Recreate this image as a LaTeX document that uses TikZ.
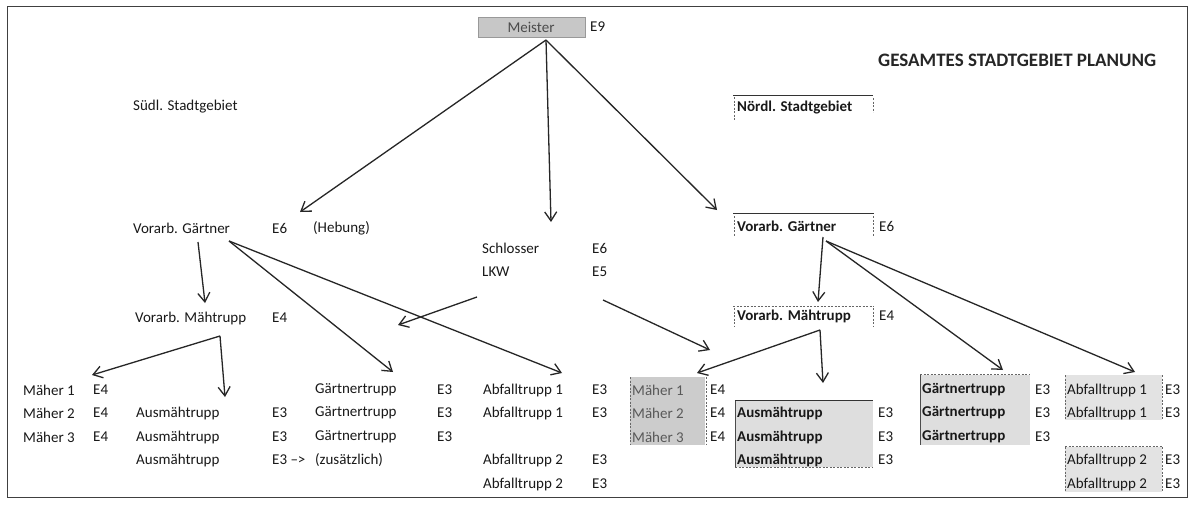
\documentclass[tikz,border=0pt]{standalone}
\usepackage{fontspec}
\setmainfont{Carlito}
\usetikzlibrary{arrows.meta}
\begin{document}
\begin{tikzpicture}[x=1pt,y=-1pt,
  lbl/.style={anchor=west,inner sep=0pt,text=black!90,font=\fontsize{15}{18}\selectfont},
  blbl/.style={lbl,font=\fontsize{15}{18}\selectfont\bfseries},
  ttl/.style={anchor=west,inner sep=0pt,text=black!85,font=\fontsize{19}{22}\selectfont\bfseries},
  arr/.style={-{Straight Barb[length=9pt,width=12pt,line width=1.3pt]},line width=1.3pt,black!85},
  topline/.style={line width=1pt,black!80},
  tick/.style={line width=0.6pt,black!60,dash pattern=on 2pt off 1.5pt}
]
\useasboundingbox (0,0) rectangle (1193,504);
\fill[white] (0,0) rectangle (1193,504);
% frame
\draw[line width=1pt,black!75] (7,6) rectangle (1187,497);

% cell shadings / borders
\draw[fill=black!22,draw=black!40,line width=0.6pt] (478,17) rectangle (585,37);
\draw[topline] (733,95) -- (873,95);
\draw[tick] (734,97) -- (734,120); \draw[tick] (873,98) -- (873,112);
\draw[topline] (733,213) -- (874,213);
\draw[tick] (734,216) -- (734,236); \draw[tick] (873,216) -- (873,236);
\draw[tick,line width=0.9pt] (733,306) -- (874,306);
\draw[tick] (734,308) -- (734,326); \draw[tick] (873,308) -- (873,326);
\fill[black!20] (630,377) rectangle (705,445);
\draw[tick] (630,377) -- (630,445); \draw[tick] (706,377) -- (706,445);
\fill[black!13] (735,400) rectangle (873,467);
\draw[topline] (735,400) -- (873,400);
\draw[line width=0.8pt,black!70] (735,401) -- (735,467);
\draw[tick] (735,467) -- (873,467);
\fill[black!13] (920,375) rectangle (1030,445);
\draw[tick] (920,374) -- (1030,374);
\draw[line width=0.8pt,black!70] (920,375) -- (920,445);
\fill[black!11] (1065,375) rectangle (1162,420);
\draw[tick] (1065,375) -- (1065,420); \draw[tick] (1162,375) -- (1162,420);
\fill[black!11] (1065,447) rectangle (1162,492);
\draw[tick] (1065,446) -- (1162,446);
\draw[tick] (1065,447) -- (1065,492); \draw[tick] (1162,447) -- (1162,492);

% top
\node[lbl,anchor=center,text=black!70] (meister) at (531,27) {Meister};
\node[lbl] (meisterE) at (590,27) {E9};
\node[ttl] (title) at (878,60) {GESAMTES STADTGEBIET PLANUNG};
\node[lbl] (sued) at (133,107) {Südl. Stadtgebiet};
\node[blbl] (noerd) at (737,108) {Nördl. Stadtgebiet};

% second level
\node[lbl] (vgL) at (133,228) {Vorarb. Gärtner};
\node[lbl] (vgLE) at (272,228) {E6};
\node[lbl] (hebung) at (313,228) {(Hebung)};
\node[lbl] (schl) at (482,248) {Schlosser};
\node[lbl] (schlE) at (592,248) {E6};
\node[lbl] (lkw) at (482,272) {LKW};
\node[lbl] (lkwE) at (592,272) {E5};
\node[blbl] (vgR) at (737,226) {Vorarb. Gärtner};
\node[lbl] (vgRE) at (879,226) {E6};

% third level
\node[lbl] (vmL) at (135,318) {Vorarb. Mähtrupp};
\node[lbl] (vmLE) at (272,318) {E4};
\node[blbl] (vmR) at (737,316) {Vorarb. Mähtrupp};
\node[lbl] (vmRE) at (879,316) {E4};

% bottom left
\node[lbl] (m1) at (23,390) {Mäher 1};  \node[lbl] (m1E) at (93,390) {E4};
\node[lbl] (m2) at (23,413) {Mäher 2};  \node[lbl] (m2E) at (93,413) {E4};
\node[lbl] (m3) at (23,437) {Mäher 3};  \node[lbl] (m3E) at (93,437) {E4};
\node[lbl] (a1) at (136,413) {Ausmähtrupp}; \node[lbl] (a1E) at (272,413) {E3};
\node[lbl] (a2) at (136,437) {Ausmähtrupp}; \node[lbl] (a2E) at (272,437) {E3};
\node[lbl] (a3) at (136,460) {Ausmähtrupp}; \node[lbl] (a3E) at (272,460) {E3 -->};
\node[lbl] (zus) at (315,460) {(zusätzlich)};
\node[lbl] (g1) at (315,390) {Gärtnertrupp}; \node[lbl] (g1E) at (437,390) {E3};
\node[lbl] (g2) at (315,413) {Gärtnertrupp}; \node[lbl] (g2E) at (437,413) {E3};
\node[lbl] (g3) at (315,437) {Gärtnertrupp}; \node[lbl] (g3E) at (437,437) {E3};
\node[lbl] (ab1) at (483,390) {Abfalltrupp 1}; \node[lbl] (ab1E) at (592,390) {E3};
\node[lbl] (ab1b) at (483,413) {Abfalltrupp 1}; \node[lbl] (ab1bE) at (592,413) {E3};
\node[lbl] (ab2) at (483,460) {Abfalltrupp 2}; \node[lbl] (ab2E) at (592,460) {E3};
\node[lbl] (ab2b) at (483,484) {Abfalltrupp 2}; \node[lbl] (ab2bE) at (592,484) {E3};

% bottom right
\node[lbl,text=black!65] (rm1) at (632,390) {Mäher 1}; \node[lbl] (rm1E) at (710,390) {E4};
\node[lbl,text=black!65] (rm2) at (632,413) {Mäher 2}; \node[lbl] (rm2E) at (710,413) {E4};
\node[lbl,text=black!65] (rm3) at (632,437) {Mäher 3}; \node[lbl] (rm3E) at (710,437) {E4};
\node[blbl] (ra1) at (737,413) {Ausmähtrupp}; \node[lbl] (ra1E) at (878,413) {E3};
\node[blbl] (ra2) at (737,437) {Ausmähtrupp}; \node[lbl] (ra2E) at (878,437) {E3};
\node[blbl] (ra3) at (737,460) {Ausmähtrupp}; \node[lbl] (ra3E) at (878,460) {E3};
\node[blbl] (rg1) at (922,390) {Gärtnertrupp}; \node[lbl] (rg1E) at (1035,390) {E3};
\node[blbl] (rg2) at (922,413) {Gärtnertrupp}; \node[lbl] (rg2E) at (1035,413) {E3};
\node[blbl] (rg3) at (922,437) {Gärtnertrupp}; \node[lbl] (rg3E) at (1035,437) {E3};
\node[lbl] (rab1) at (1067,390) {Abfalltrupp 1}; \node[lbl] (rab1E) at (1165,390) {E3};
\node[lbl] (rab1b) at (1067,413) {Abfalltrupp 1}; \node[lbl] (rab1bE) at (1165,413) {E3};
\node[lbl] (rab2) at (1067,460) {Abfalltrupp 2}; \node[lbl] (rab2E) at (1165,460) {E3};
\node[lbl] (rab2b) at (1067,484) {Abfalltrupp 2}; \node[lbl] (rab2bE) at (1165,484) {E3};

% connector end points
\coordinate (mS) at (546,40);
\coordinate (vgLt) at (300,212);
\coordinate (schlt) at (551,222);
\coordinate (vgRt) at (717,210);
\coordinate (vgLs1) at (198,242);
\coordinate (vgLs2) at (229,241);
\coordinate (vmLt) at (205,303);
\coordinate (g1t) at (393,372);
\coordinate (ab1t) at (562,373);
\coordinate (vmLs) at (220,336);
\coordinate (m1t) at (92,375);
\coordinate (a1t) at (225,397);
\coordinate (lkwS1) at (477,297);
\coordinate (lkwT1) at (398,325);
\coordinate (lkwS2) at (603,300);
\coordinate (lkwT2) at (710,350);
\coordinate (vgRs1) at (823,237);
\coordinate (vgRs2) at (826,241);
\coordinate (vmRt) at (818,302);
\coordinate (rg1t) at (1003,370);
\coordinate (rab1t) at (1135,372);
\coordinate (vmRs) at (820,330);
\coordinate (rm1t) at (697,373);
\coordinate (ra1t) at (823,383);

\draw[arr] (mS) -- (vgLt);
\draw[arr] (mS) -- (schlt);
\draw[arr] (mS) -- (vgRt);
\draw[arr] (vgLs1) -- (vmLt);
\draw[arr] (vgLs2) -- (g1t);
\draw[arr] (vgLs2) -- (ab1t);
\draw[arr] (vmLs) -- (m1t);
\draw[arr] (vmLs) -- (a1t);
\draw[arr] (lkwS1) -- (lkwT1);
\draw[arr] (lkwS2) -- (lkwT2);
\draw[arr] (vgRs1) -- (vmRt);
\draw[arr] (vgRs2) -- (rg1t);
\draw[arr] (vgRs2) -- (rab1t);
\draw[arr] (vmRs) -- (rm1t);
\draw[arr] (vmRs) -- (ra1t);
\end{tikzpicture}
\end{document}
